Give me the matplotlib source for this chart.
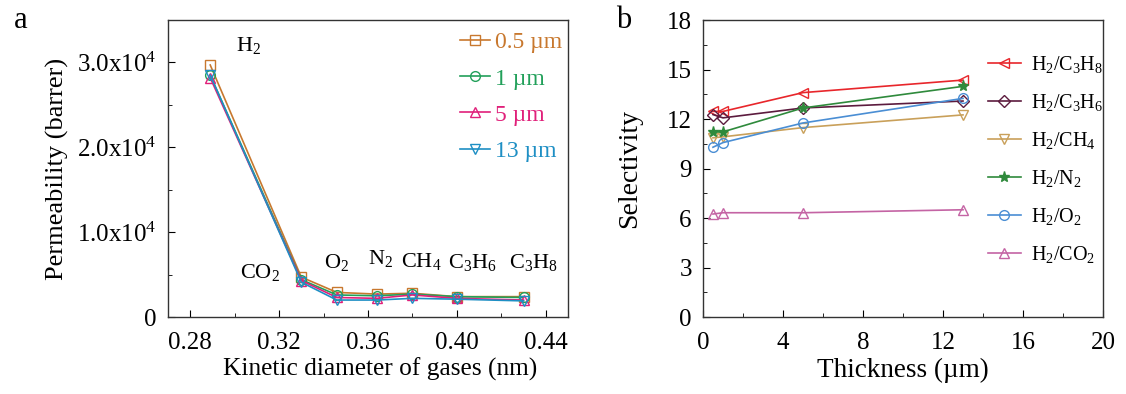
import matplotlib
matplotlib.use("Agg")
import matplotlib.pyplot as plt
import numpy as np
from matplotlib.ticker import MultipleLocator, FixedLocator

plt.rcParams.update({
    "font.family": ["Liberation Serif", "DejaVu Serif"],
    "mathtext.fontset": "custom",
    "mathtext.rm": "Liberation Serif",
    "mathtext.it": "Liberation Serif:italic",
    "font.size": 15,
    "axes.linewidth": 1.0,
})

# panel a: permeability vs kinetic diameter
gases = [r"H$_2$", r"CO$_2$", r"O$_2$", r"N$_2$", r"CH$_4$", r"C$_3$H$_6$", r"C$_3$H$_8$"]
diameter = [0.289, 0.330, 0.346, 0.364, 0.380, 0.400, 0.430]
perm_05 = [29700, 4700, 2900, 2700, 2800, 2400, 2400]
perm_1 = [28500, 4400, 2600, 2500, 2700, 2400, 2300]
perm_5 = [28200, 4300, 2300, 2200, 2600, 2200, 2000]
perm_13 = [28500, 4100, 2000, 2000, 2200, 2100, 1900]
thick_labels = ["0.5 µm", "1 µm", "5 µm", "13 µm"]

# panel b: selectivity vs thickness
thickness = [0.5, 1, 5, 13]
sel_c3h8 = [12.46, 12.46, 13.6, 14.36]
sel_c3h6 = [12.27, 12.07, 12.67, 13.09]
sel_ch4 = [10.86, 10.92, 11.48, 12.25]
sel_n2 = [11.22, 11.22, 12.67, 13.98]
sel_o2 = [10.29, 10.57, 11.76, 13.25]
sel_co2 = [6.24, 6.32, 6.32, 6.5]
pair_labels = [r"H$_2$/C$_3$H$_8$", r"H$_2$/C$_3$H$_6$", r"H$_2$/CH$_4$",
               r"H$_2$/N$_2$", r"H$_2$/O$_2$", r"H$_2$/CO$_2$"]

fig = plt.figure(figsize=(11.26, 3.94), dpi=100)
ax1 = fig.add_axes([0.1492, 0.1954, 0.3552, 0.7538])
ax2 = fig.add_axes([0.6243, 0.1954, 0.3553, 0.7538])

cols_a = ["#c8782e", "#22a05a", "#e0207a", "#1e8fc4"]
marks_a = ["s", "o", "^", "v"]
for vals, lab, c, m in zip([perm_05, perm_1, perm_5, perm_13], thick_labels, cols_a, marks_a):
    ax1.plot(diameter, vals, color=c, marker=m, mfc="none", ms=7, lw=1.2, label=lab)

# gas labels offset (pixels) from the 0.5 um point
offsets = [(38, 19), (-41, 5), (0, 30), (4, 36), (9, 32), (16, 34), (10, 34)]
for g, x, y, off in zip(gases, diameter, perm_05, offsets):
    ax1.annotate(g, (x, y), xytext=off, textcoords="offset pixels",
                 ha="center", va="center", fontsize=16)

ax1.set_xlim(0.27, 0.45)
ax1.set_ylim(0, 35000)
ax1.xaxis.set_major_locator(FixedLocator([0.28, 0.32, 0.36, 0.40, 0.44]))
ax1.set_xticklabels(["0.28", "0.32", "0.36", "0.40", "0.44"])
ax1.xaxis.set_minor_locator(FixedLocator([0.30, 0.34, 0.38, 0.42]))
ax1.set_yticks([0, 10000, 20000, 30000])
ax1.set_yticklabels(["0", r"1.0x10$^4$", r"2.0x10$^4$", r"3.0x10$^4$"])
ax1.yaxis.set_minor_locator(MultipleLocator(5000))
ax1.set_xlabel("Kinetic diameter of gases (nm)", fontsize=18.3)
ax1.xaxis.set_label_coords(0.53, -0.138)
ax1.set_ylabel("Permeability (barrer)", fontsize=19, labelpad=6)
leg1 = ax1.legend(loc="upper right", frameon=False, fontsize=17, handlelength=1.3,
                  handletextpad=0.2, labelspacing=0.62, borderaxespad=0.1,
                  bbox_to_anchor=(1.015, 1.0))
for t, c in zip(leg1.get_texts(), cols_a):
    t.set_color(c)

cols_b = ["#e8262b", "#5c1b3e", "#c9a05a", "#2f8a3c", "#4a8ed4", "#c464a4"]
marks_b = ["<", "D", "v", "*", "o", "^"]
sizes_b = [7, 6, 7, 8, 7, 7]
for vals, lab, c, m, s in zip([sel_c3h8, sel_c3h6, sel_ch4, sel_n2, sel_o2, sel_co2],
                              pair_labels, cols_b, marks_b, sizes_b):
    ax2.plot(thickness, vals, color=c, marker=m, ms=s, lw=1.2, label=lab,
             mfc=c if m == "*" else "none")

ax2.set_xlim(0, 20)
ax2.set_ylim(0, 18)
ax2.xaxis.set_major_locator(MultipleLocator(4))
ax2.xaxis.set_minor_locator(MultipleLocator(2))
ax2.yaxis.set_major_locator(MultipleLocator(3))
ax2.yaxis.set_minor_locator(MultipleLocator(1.5))
ax2.set_xlabel("Thickness (µm)", fontsize=19.5)
ax2.xaxis.set_label_coords(0.5, -0.138)
ax2.set_ylabel("Selectivity", fontsize=20, labelpad=18)
ax2.legend(loc="upper right", frameon=False, fontsize=14.5, handlelength=1.6,
           handletextpad=0.5, labelspacing=0.85, borderaxespad=0.1,
           bbox_to_anchor=(1.025, 0.92))

for ax in (ax1, ax2):
    ax.tick_params(which="both", direction="in", top=False, right=False, labelsize=18)
    ax.tick_params(which="major", length=5)
    ax.tick_params(which="minor", length=3)
    ax.tick_params(axis="x", which="major", pad=11)
    ax.tick_params(axis="y", which="major", pad=8)
    for sp in ax.spines.values():
        sp.set_color("#333333")

fig.text(0.012, 0.93, "a", fontsize=22)
fig.text(0.547, 0.93, "b", fontsize=22)

fig.savefig("out.png", dpi=100)
